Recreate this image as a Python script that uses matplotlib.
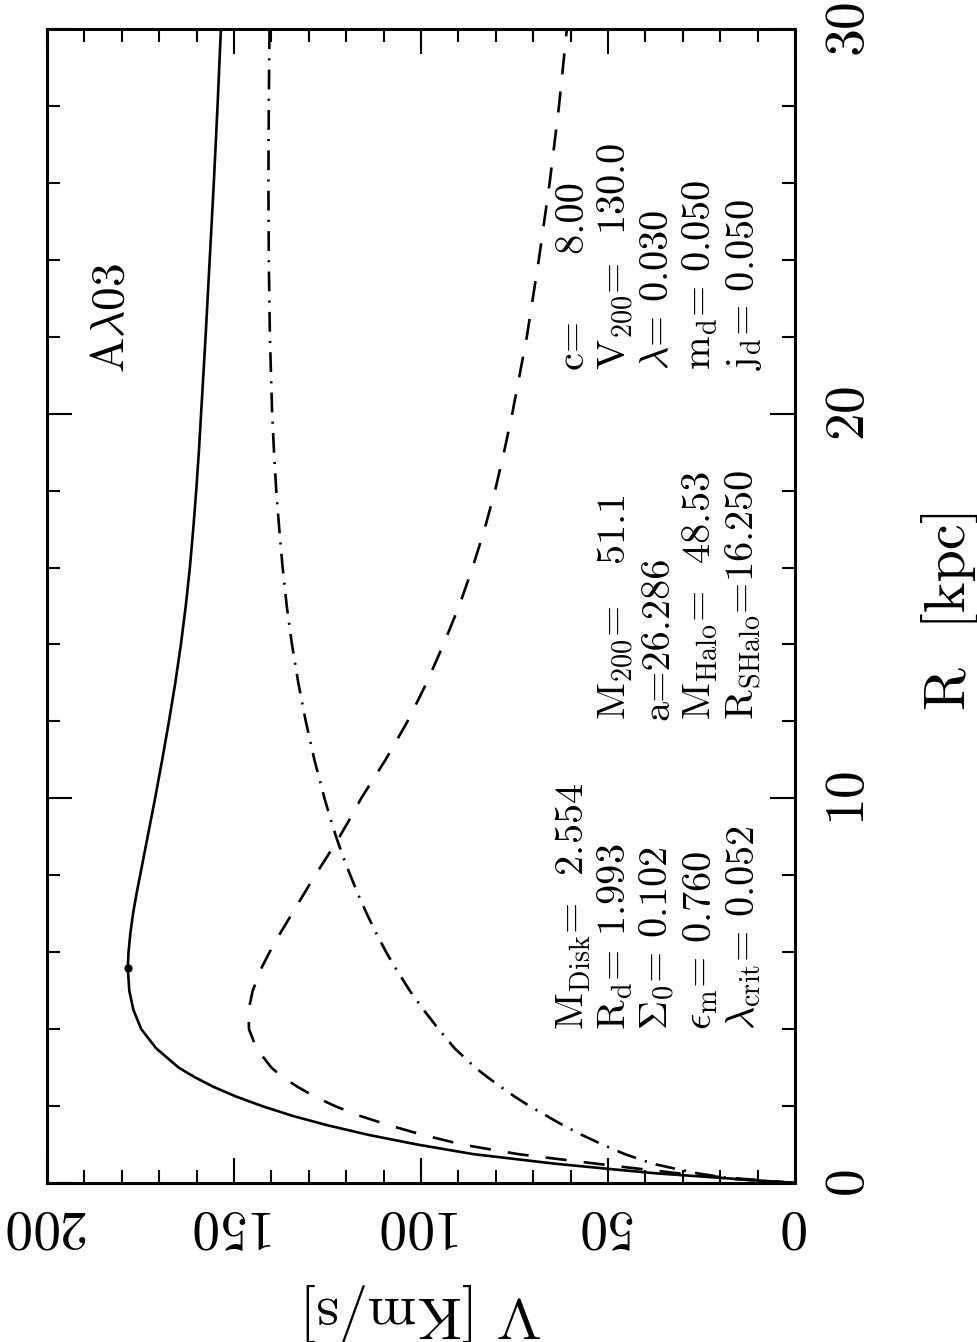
import numpy as np
import matplotlib
matplotlib.use("Agg")
import matplotlib.pyplot as plt
from matplotlib.ticker import MultipleLocator

plt.rcParams['font.family'] = 'serif'
plt.rcParams['font.serif'] = ['cmr10']
plt.rcParams['mathtext.fontset'] = 'cm'
plt.rcParams['axes.unicode_minus'] = False
plt.rcParams['axes.formatter.use_mathtext'] = True

# radius grid [kpc] and the three rotation curves [km/s]
r_kpc = [0, 0.1, 0.25, 0.35, 0.5, 0.75, 1.0, 1.25, 1.5, 1.75, 2.0, 2.25, 2.5,
         2.75, 3.0, 3.5, 4.0, 4.5, 5.0, 5.6, 6.0, 6.5, 7.0, 7.5, 8.0, 8.5, 9.0,
         9.5, 10, 11, 12, 13, 14, 15, 16, 17, 18, 19, 20, 22, 24, 26, 28, 30]
v_total = [0, 15, 37, 48, 64, 86, 101, 114, 125, 134.5, 142.5, 149.5, 155.5,
           160.5, 164.8, 170.8, 174.8, 176.9, 178, 178.4, 178.2, 177.7, 177.0,
           176.1, 175.1, 174.1, 173.1, 172.1, 171.1, 169.2, 167.4, 165.7, 164.2,
           162.9, 161.8, 160.9, 160.1, 159.4, 158.8, 157.6, 156.5, 155.4, 154.4,
           153.5]
v_disk = [0, 13, 31, 40, 53, 74, 89, 99.5, 108.5, 116.5, 123, 128.5, 133, 137,
          140, 144, 146, 146.1, 145, 142.6, 140.5, 137.6, 134.5, 131.4, 128.3,
          125, 121.8, 118.8, 116, 109.5, 103.6, 98.5, 94, 89.8, 86.2, 83, 80.2,
          77.8, 75.6, 71.7, 68.5, 65.6, 63.1, 61]
v_halo = [0, 16, 26, 31, 38, 45.5, 51.5, 57, 62, 66.5, 71, 75, 78.7, 82.2, 85.5,
          91, 95.3, 99.3, 103, 106.9, 109.3, 112, 114.5, 116.8, 118.9, 120.9,
          122.7, 124.3, 125.8, 128.5, 130.8, 132.8, 134.5, 135.9, 137, 137.9,
          138.7, 139.3, 139.8, 140.4, 140.7, 140.8, 140.7, 140.5]

# maximum of the total curve (marked with a dot)
peak_r = 5.6
peak_v = 178.4

label_model = r'A$\lambda$03'
block_disk = [r'$\mathrm{M_{Disk}}$=  2.554',
              r'$\mathrm{R_d}$= 1.993',
              r'$\Sigma_0$= 0.102',
              r'$\epsilon_\mathrm{m}$= 0.760',
              r'$\lambda_\mathrm{crit}$= 0.052']
block_halo = [r'$\mathrm{M_{200}}$=   51.1',
              r'a=26.286',
              r'$\mathrm{M_{Halo}}$=  48.53',
              r'$\mathrm{R_{SHalo}}$=16.250']
block_par = [r'c=     8.00',
             r'$\mathrm{V_{200}}$=  130.0',
             r'$\lambda$= 0.030',
             r'$\mathrm{m_d}$= 0.050',
             r'$\mathrm{j_d}$= 0.050']

W, H = 978, 1342
fig = plt.figure(figsize=(W / 100, H / 100), dpi=100)
ax = fig.add_axes([47 / W, 1 - 1183 / H, 748 / W, 1154 / H])

lw = 1.9
ax.plot(v_total, r_kpc, color='black', lw=lw)
ax.plot(v_disk, r_kpc, color='black', lw=lw, ls=(0, (8, 6.5)))
ax.plot(v_halo, r_kpc, color='black', lw=lw, ls=(0, (7.5, 3.5, 0.8, 3.5)))
ax.plot([peak_v], [peak_r], 'o', color='black', ms=5)

ax.set_xlim(200, 0)
ax.set_ylim(0, 30)
ax.xaxis.set_major_locator(MultipleLocator(50))
ax.xaxis.set_minor_locator(MultipleLocator(10))
ax.yaxis.set_major_locator(MultipleLocator(10))
ax.yaxis.set_minor_locator(MultipleLocator(2))

for s in ax.spines.values():
    s.set_linewidth(2.2)
ax.tick_params(which='both', direction='in', top=True, bottom=True,
               left=True, right=True, width=1.5)
ax.tick_params(which='major', length=18)
ax.tick_params(which='minor', length=9.5)
ax.tick_params(axis='x', labelsize=40, labelrotation=180, pad=12)
ax.tick_params(axis='y', labelleft=False, labelright=True, labelsize=40,
               labelrotation=90, pad=22)
for t in ax.get_yticklabels():
    t.set_verticalalignment('center')

fig.text(420 / W, 1 - 1312 / H, 'V [Km/s]', rotation=180, fontsize=42,
         ha='center', va='center')
fig.text(950 / W, 1 - 608 / H, 'R  [kpc]', rotation=90, fontsize=42,
         ha='center', va='center')

ax.text(0.087, 0.75, label_model, transform=ax.transAxes, rotation=90,
        fontsize=34, ha='center', va='center')

fs = 29
cols = [584, 626, 668, 711, 754]
for i, s in enumerate(block_disk):
    ax.text((cols[i] - 47) / 748, (1183 - 1030) / 1154, s, transform=ax.transAxes,
            rotation=90, rotation_mode='anchor', ha='left', va='baseline', fontsize=fs)
for i, s in enumerate(block_halo):
    ax.text((cols[i + 1] - 47) / 748, (1183 - 720) / 1154, s, transform=ax.transAxes,
            rotation=90, rotation_mode='anchor', ha='left', va='baseline', fontsize=fs)
for i, s in enumerate(block_par):
    ax.text((cols[i] - 47) / 748, (1183 - 370) / 1154, s, transform=ax.transAxes,
            rotation=90, rotation_mode='anchor', ha='left', va='baseline', fontsize=fs)

fig.savefig('out.png', dpi=100)
